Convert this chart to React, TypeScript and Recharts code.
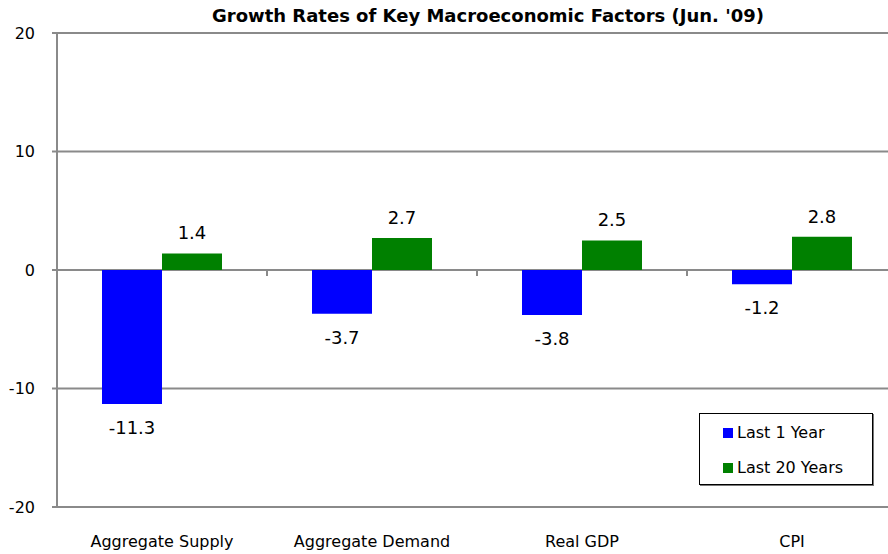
import { BarChart, Bar, XAxis, YAxis, CartesianGrid, Legend, LabelList, ReferenceLine } from "recharts";

const categories = ["Aggregate Supply", "Aggregate Demand", "Real GDP", "CPI"];
const lastOneYear = [-11.3, -3.7, -3.8, -1.2];
const lastTwentyYears = [1.4, 2.7, 2.5, 2.8];
const yTicks = [-20, -10, 0, 10, 20];

const data = categories.map((name, i) => ({
  name,
  "Last 1 Year": lastOneYear[i],
  "Last 20 Years": lastTwentyYears[i],
}));

const FONT = "'DejaVu Sans', Verdana, sans-serif";
const GRID = "#8a8a8a";

const ValueLabel = (props: any) => {
  const { x, y, width, height, value } = props;
  const top = Math.min(y, y + height);
  const bottom = Math.max(y, y + height);
  const positive = value >= 0;
  return (
    <text
      x={x + width / 2}
      y={positive ? top - 14 : bottom + 30}
      textAnchor="middle"
      fontSize={18}
      fontFamily={FONT}
      fill="#000"
    >
      {Number(value).toFixed(1)}
    </text>
  );
};

const LegendBox = ({ payload }: any) => (
  <div
    style={{
      border: "1px solid #000",
      boxShadow: "1px 1px 0 #777",
      background: "#fff",
      height: 72,
      boxSizing: "border-box",
      padding: "1px 0 0 23px",
      fontFamily: FONT,
      fontSize: 16,
    }}
  >
    {(payload || []).map((entry: any) => (
      <div key={entry.value} style={{ display: "flex", alignItems: "center", height: 35 }}>
        <span style={{ width: 10, height: 10, background: entry.color, marginRight: 4, display: "inline-block" }} />
        <span>{entry.value}</span>
      </div>
    ))}
  </div>
);

export default function App() {
  return (
    <div style={{ position: "absolute", left: 0, top: 0, width: 888, height: 554, overflow: "hidden", background: "#fff" }}>
      <div
        style={{
          position: "absolute",
          left: 0,
          top: 5,
          width: 976,
          textAlign: "center",
          fontFamily: FONT,
          fontWeight: "bold",
          fontSize: 18,
          whiteSpace: "nowrap",
        }}
      >
        Growth Rates of Key Macroeconomic Factors (Jun. '09)
      </div>
      <BarChart
        width={897}
        height={554}
        data={data}
        margin={{ top: 33, right: 0, bottom: 0, left: 0 }}
        barGap={0}
        barSize={60}
      >
        <CartesianGrid vertical={false} stroke={GRID} strokeWidth={2} />
        <XAxis
          dataKey="name"
          axisLine={false}
          tickLine={false}
          height={47}
          tickMargin={23}
          tick={{ fill: "#000", fontSize: 16, fontFamily: FONT }}
        />
        <YAxis
          domain={[-20, 20]}
          ticks={yTicks}
          width={57}
          tickSize={5}
          tickMargin={17}
          axisLine={{ stroke: GRID, strokeWidth: 2 }}
          tickLine={{ stroke: GRID, strokeWidth: 2 }}
          tick={{ fill: "#000", fontSize: 16, fontFamily: FONT }}
        />
        {categories.slice(1).map((c) => (
          <ReferenceLine
            key={c}
            segment={[
              { x: c, y: 0 },
              { x: c, y: -0.5 },
            ]}
            position="start"
            stroke={GRID}
            strokeWidth={2}
          />
        ))}
        <Legend
          layout="horizontal"
          verticalAlign="middle"
          align="center"
          content={<LegendBox />}
          wrapperStyle={{ left: 699, top: 413, width: 174, height: 72 }}
        />
        <Bar dataKey="Last 1 Year" fill="#0000ff" isAnimationActive={false}>
          <LabelList dataKey="Last 1 Year" content={<ValueLabel />} />
        </Bar>
        <Bar dataKey="Last 20 Years" fill="#008000" isAnimationActive={false}>
          <LabelList dataKey="Last 20 Years" content={<ValueLabel />} />
        </Bar>
      </BarChart>
    </div>
  );
}
